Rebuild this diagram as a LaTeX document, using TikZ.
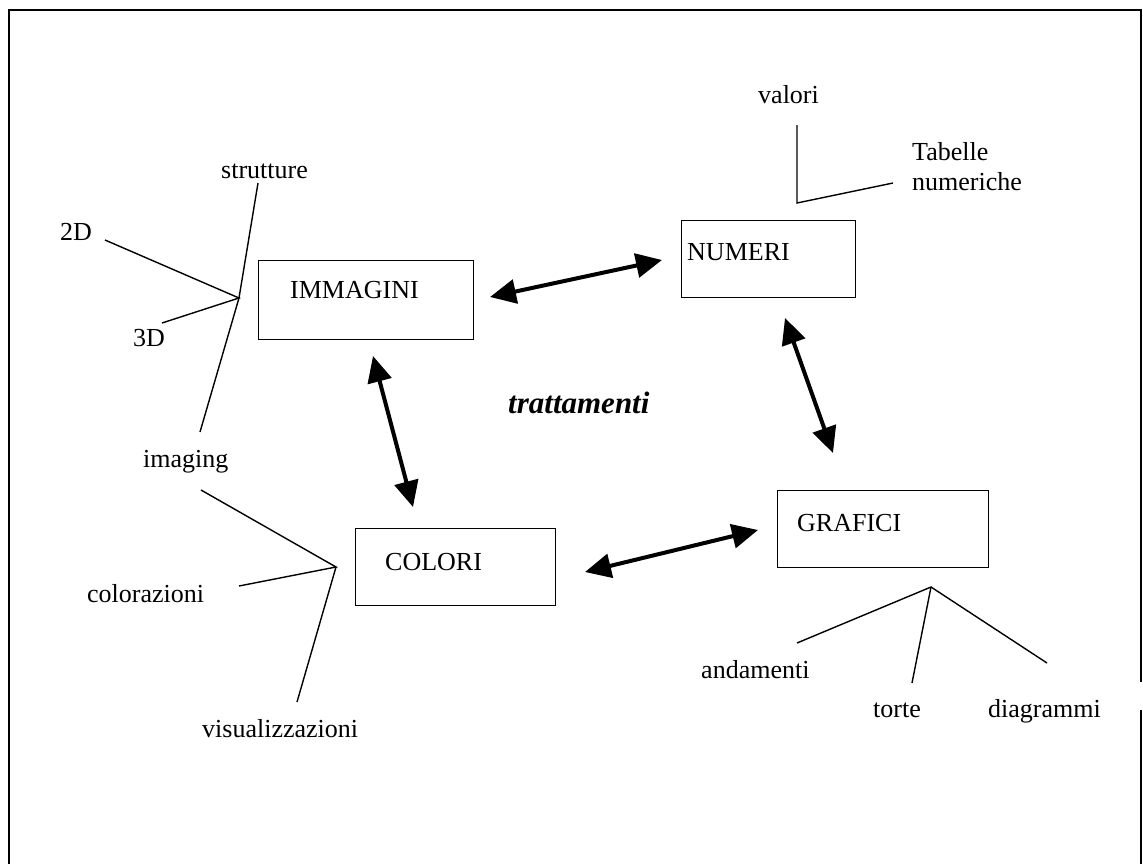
\documentclass[tikz,border=0pt]{standalone}
\usepackage{fontspec}
\setmainfont{Liberation Serif}
\usetikzlibrary{arrows.meta}
\begin{document}
\begin{tikzpicture}[x=1pt,y=-1pt,
  lbl/.style={anchor=base west,inner sep=0pt,font=\fontsize{26}{30}\selectfont},
  box/.style={draw,line width=1.3pt,anchor=north west,inner sep=0pt},
  thin/.style={line width=1.4pt},
  dbl/.style={line width=4pt,{Triangle[length=26pt,width=24pt]}-{Triangle[length=26pt,width=24pt]}}]
\useasboundingbox (0,0) rectangle (1143,863);
% outer frame, open at the bottom and broken on the right
\draw[line width=2pt] (9,864) -- (9,10) -- (1141,10) -- (1141,682);
\draw[line width=2pt] (1141,710) -- (1141,864);

% boxes
\node[box,minimum width=215pt,minimum height=79pt] (immbox) at (258,260) {};
\node[box,minimum width=174pt,minimum height=77pt] (numbox) at (681,220) {};
\node[box,minimum width=200pt,minimum height=77pt] (colbox) at (355,528) {};
\node[box,minimum width=211pt,minimum height=77pt] (grabox) at (777,490) {};
\node[lbl] (imm) at (290,298) {IMMAGINI};
\node[lbl] (num) at (687,260) {NUMERI};
\node[lbl] (col) at (385,570) {COLORI};
\node[lbl] (gra) at (797,531) {GRAFICI};

% centre label
\node[anchor=base west,inner sep=0pt,font=\fontsize{31}{36}\selectfont\bfseries\itshape] (tratt) at (508,413) {trattamenti};

% other labels
\node[lbl] (strutture) at (221,178) {strutture};
\node[lbl] (d2) at (60,240) {2D};
\node[lbl] (d3) at (133,346) {3D};
\node[lbl] (imaging) at (143,467) {imaging};
\node[lbl] (colorazioni) at (87,602) {colorazioni};
\node[lbl] (visual) at (202,737) {visualizzazioni};
\node[lbl] (valori) at (758,103) {valori};
\node[lbl,align=left] (tabelle) at (912,190) {Tabelle\\numeriche};
\node[lbl] (andamenti) at (701,678) {andamenti};
\node[lbl] (torte) at (873,717) {torte};
\node[lbl] (diagrammi) at (988,717) {diagrammi};

% branch points and line ends
\coordinate (jImm) at (239,298);
\coordinate (eStr) at (258,183);
\coordinate (eImg) at (200,432);
\coordinate (e2D) at (105,240);
\coordinate (e3D) at (162,323);
\coordinate (jCol) at (336,567);
\coordinate (eImg2) at (201,490);
\coordinate (eColz) at (239,586);
\coordinate (eVis) at (297,702);
\coordinate (jGra) at (931,587);
\coordinate (eAnd) at (797,643);
\coordinate (eTor) at (912,683);
\coordinate (eDia) at (1047,663);
\coordinate (eVal) at (797,125);
\coordinate (jNum) at (797,203);
\coordinate (eTab) at (893,183);

\draw[thin] (eStr) -- (jImm) -- (eImg);
\draw[thin] (e2D) -- (jImm) -- (e3D);
\draw[thin] (eImg2) -- (jCol) -- (eColz);
\draw[thin] (jCol) -- (eVis);
\draw[thin] (eAnd) -- (jGra) -- (eDia);
\draw[thin] (jGra) -- (eTor);
\draw[thin] (eVal) -- (jNum) -- (eTab);

% double-headed arrows between the boxes
\coordinate (a1) at (490,297);
\coordinate (a2) at (662,260);
\coordinate (b1) at (373,356);
\coordinate (b2) at (413,507);
\coordinate (c1) at (785,318);
\coordinate (c2) at (833,453);
\coordinate (d1) at (585,572);
\coordinate (d2) at (758,530);
\draw[dbl] (a1) -- (a2);
\draw[dbl] (b1) -- (b2);
\draw[dbl] (c1) -- (c2);
\draw[dbl] (d1) -- (d2);
\end{tikzpicture}
\end{document}
